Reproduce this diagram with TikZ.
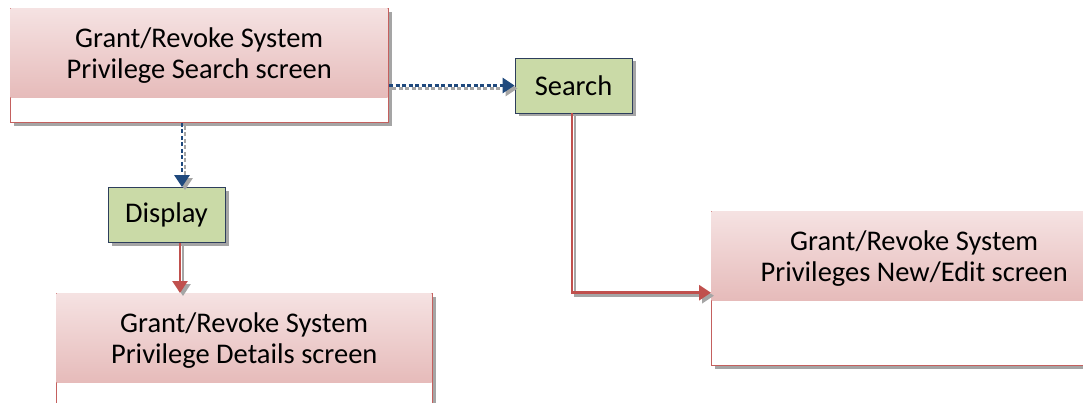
\documentclass[tikz,border=0pt]{standalone}
\usepackage{fontspec}
\setmainfont{Carlito}
\usetikzlibrary{arrows.meta,shadows,positioning}
\definecolor{hdtop}{RGB}{245,226,226}
\definecolor{hdbot}{RGB}{230,187,186}
\definecolor{scrline}{RGB}{196,96,94}
\definecolor{btnfill}{RGB}{202,218,167}
\definecolor{btnline}{RGB}{45,62,92}
\definecolor{flowblue}{RGB}{31,73,125}
\definecolor{flowred}{RGB}{192,80,77}
\definecolor{shd}{RGB}{165,165,165}
\tikzset{
  scrbox/.style={draw=scrline, line width=1pt, fill=white, anchor=north west,
    drop shadow={shadow xshift=3.5pt, shadow yshift=-3.5pt, fill=shd, opacity=1}},
  scrhead/.style={top color=hdtop, bottom color=hdbot, anchor=north west,
    inner sep=0pt, align=center, font=\fontsize{28.5}{31}\selectfont},
  btn/.style={draw=btnline, line width=0.8pt, fill=btnfill, minimum width=117pt,
    minimum height=55pt, font=\fontsize{28.5}{31}\selectfont,
    drop shadow={shadow xshift=3.5pt, shadow yshift=-3.5pt, fill=shd, opacity=1}},
  blueflow/.style={draw=flowblue, line width=2.8pt, dash pattern=on 4pt off 2.5pt,
    -{Triangle[length=12pt,width=15pt]}},
  redflow/.style={draw=flowred, line width=2.8pt, -{Triangle[length=12pt,width=15pt]}},
  flowshade/.style={draw=shd, dash pattern=on 4pt off 2.5pt, line width=2.8pt,
    -{Triangle[length=12pt,width=15pt]}, transform canvas={shift={(3pt,-3pt)}}},
  solidshade/.style={draw=shd, line width=2.8pt,
    -{Triangle[length=12pt,width=15pt]}, transform canvas={shift={(3pt,-3pt)}}}
}
\begin{document}
\begin{tikzpicture}[x=1pt,y=-1pt]
    \useasboundingbox (0,0) rectangle (1083,403);
    \clip (0,0) rectangle (1083,403);
    %%% Screen boxes
    \node[scrbox, minimum width=378pt, minimum height=114pt] (ssbox) at (10,8) {};
    \node[scrhead, minimum width=377pt, minimum height=89pt] (sshead) at ([shift={(0.5pt,-0.5pt)}]ssbox.north west)
        {\rule{0pt}{24pt}Grant/Revoke System\\Privilege Search screen};
    \node[scrbox, minimum width=376pt, minimum height=114pt] (dtbox) at (56,293) {};
    \node[scrhead, minimum width=375pt, minimum height=89pt] (dthead) at ([shift={(0.5pt,-0.5pt)}]dtbox.north west)
        {\rule{0pt}{24pt}Grant/Revoke System\\Privilege Details screen};
    \node[scrbox, minimum width=406pt, minimum height=154pt] (nebox) at (711,211) {};
    \node[scrhead, minimum width=405pt, minimum height=89pt] (nehead) at ([shift={(0.5pt,-0.5pt)}]nebox.north west)
        {\rule{0pt}{24pt}Grant/Revoke System\\Privileges New/Edit screen};
    %%% Buttons
    \node[btn] (search) at (573.5,85.5) {Search};
    \node[btn] (display) at (166.5,215) {Display};
    %%% Connector end points
    \coordinate (dispin) at ([xshift=15.5pt]display.north);
    \coordinate (dispout) at ([xshift=13.5pt]display.south);
    \coordinate (srchout) at ([xshift=-1.5pt]search.south);
    \coordinate (nein) at ([yshift=-36.5pt]nebox.west |- nehead.west);
    %%% Shadows of connectors
    \draw[flowshade] (ssbox.east |- search.west) -- (search.west);
    \draw[flowshade] (ssbox.south -| dispin) -- (dispin);
    \draw[solidshade] (dispout) -- (dtbox.north -| dispout);
    \draw[solidshade] (srchout) |- (nein);
    %%% Connectors
    \draw[blueflow] (ssbox.east |- search.west) -- (search.west);
    \draw[blueflow] (ssbox.south -| dispin) -- (dispin);
    \draw[redflow] (dispout) -- (dtbox.north -| dispout);
    \draw[redflow] (srchout) |- (nein);
\end{tikzpicture}
\end{document}
